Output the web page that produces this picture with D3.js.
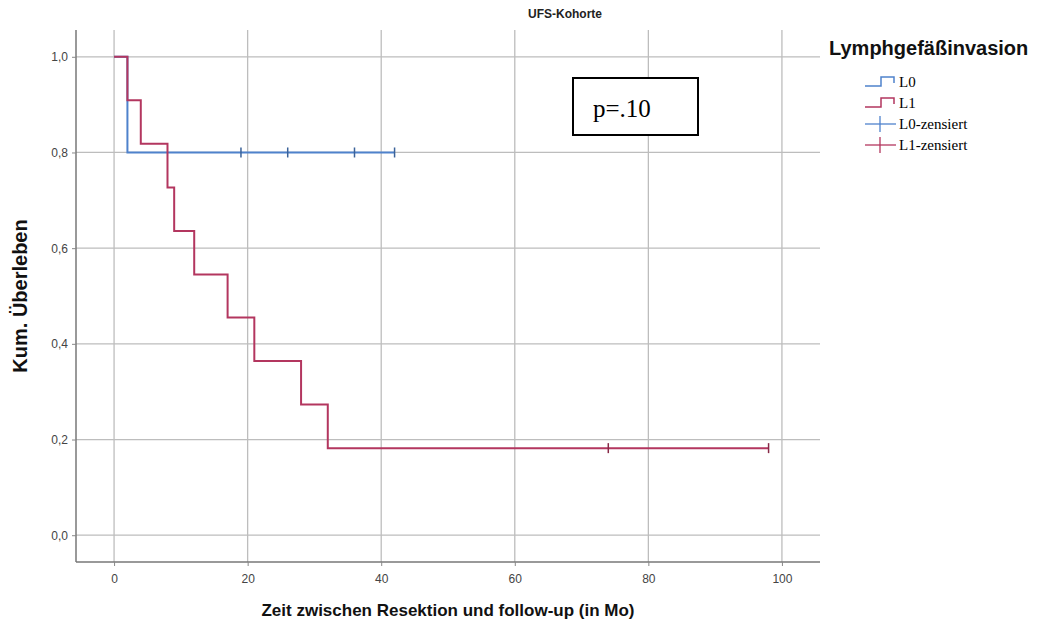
<!doctype html>
<html>
<head>
  <meta charset="utf-8">
  <title>UFS-Kohorte</title>
  <script src="https://d3js.org/d3.v7.min.js"></script>
  <style>
    body { margin: 0; padding: 0; background: #fff; }
    svg { display: block; }
    text { font-family: Arial, "Liberation Sans", sans-serif; }
  </style>
</head>
<body>
<div id="container"></div>
<script>
// data
var groups = ["L0", "L1"];
var colors = ["#4f82cc", "#b3365f"];
// step times (months) and survival after each step
var l0Times = [0, 2];
var l0Surv = [1.0, 0.8];
var l0End = 42;
var l0Censored = [19, 26, 36, 42];

var l1Times = [0, 2, 4, 8, 9, 12, 17, 21, 28, 32];
var l1Surv = [1.0, 0.909, 0.818, 0.727, 0.636, 0.545, 0.455, 0.364, 0.273, 0.182];
var l1End = 98;
var l1Censored = [74, 98];

var xTicks = [0, 20, 40, 60, 80, 100];
var yTicks = [0, 0.2, 0.4, 0.6, 0.8, 1.0];
var legendLabels = ["L0", "L1", "L0-zensiert", "L1-zensiert"];

var width = 1043, height = 632;
var plotL = 76, plotR = 820, plotT = 30, plotB = 562;

var svg = d3.select("#container").append("svg")
    .attr("width", width).attr("height", height);

var x = d3.scaleLinear().domain([-5.7, 105.7]).range([plotL, plotR]);
var y = d3.scaleLinear().domain([-0.056, 1.056]).range([plotB, plotT]);

// gridlines
svg.append("g").selectAll("line").data(xTicks).enter().append("line")
    .attr("x1", d => x(d)).attr("x2", d => x(d))
    .attr("y1", plotT).attr("y2", plotB)
    .attr("stroke", "#bdbdbd").attr("stroke-width", 1.3);
svg.append("g").selectAll("line").data(yTicks).enter().append("line")
    .attr("x1", plotL).attr("x2", plotR)
    .attr("y1", d => y(d)).attr("y2", d => y(d))
    .attr("stroke", "#bdbdbd").attr("stroke-width", 1.3);

// axes
var xAxis = d3.axisBottom(x).tickValues(xTicks).tickSize(4).tickPadding(8)
    .tickFormat(d3.format("d"));
var yAxis = d3.axisLeft(y).tickValues(yTicks).tickSize(4).tickPadding(4)
    .tickFormat(d => d3.format(".1f")(d).replace(".", ","));

var gx = svg.append("g").attr("transform", "translate(0," + plotB + ")").call(xAxis);
var gy = svg.append("g").attr("transform", "translate(" + plotL + ",0)").call(yAxis);
[gx, gy].forEach(function(g) {
  g.select(".domain").attr("stroke", "#777").attr("stroke-width", 1.5);
  g.selectAll(".tick line").attr("stroke", "#888");
  g.selectAll(".tick text").attr("fill", "#444").style("font-size", "12px")
    .style("font-family", "Arial, 'Liberation Sans', sans-serif");
});
gx.select(".domain").attr("d", "M" + plotL + ",0H" + plotR);
gy.select(".domain").attr("d", "M0," + plotT + "V" + plotB);

// step curves
function stepPath(times, surv, end) {
  var pts = [];
  for (var i = 0; i < times.length; i++) {
    if (i > 0) pts.push([times[i], surv[i - 1]]);
    pts.push([times[i], surv[i]]);
  }
  pts.push([end, surv[surv.length - 1]]);
  return d3.line().x(d => x(d[0])).y(d => y(d[1]))(pts);
}
function survAt(times, surv, t) {
  var s = surv[0];
  for (var i = 0; i < times.length; i++) if (times[i] <= t) s = surv[i];
  return s;
}

var series = [
  {times: l0Times, surv: l0Surv, end: l0End, cens: l0Censored},
  {times: l1Times, surv: l1Surv, end: l1End, cens: l1Censored}
];
// L1 drawn last, it sits on top of L0 at the shared start
[0, 1].forEach(function(k) {
  var s = series[k];
  svg.append("path").attr("d", stepPath(s.times, s.surv, s.end))
    .attr("fill", "none").attr("stroke", colors[k]).attr("stroke-width", 2);
  svg.append("g").selectAll("line").data(s.cens).enter().append("line")
    .attr("x1", d => x(d)).attr("x2", d => x(d))
    .attr("y1", d => y(survAt(s.times, s.surv, d)) - 5)
    .attr("y2", d => y(survAt(s.times, s.surv, d)) + 5)
    .attr("stroke", d3.color(colors[k]).darker(0.8)).attr("stroke-width", 1.5);
});

// title
svg.append("text").attr("x", 565).attr("y", 18).attr("text-anchor", "middle")
  .style("font-size", "12px").style("font-weight", "bold").attr("fill", "#222")
  .text("UFS-Kohorte");

// axis titles
svg.append("text").attr("x", (plotL + plotR) / 2).attr("y", 616).attr("text-anchor", "middle")
  .style("font-size", "17px").style("font-weight", "bold").attr("fill", "#111")
  .text("Zeit zwischen Resektion und follow-up (in Mo)");
svg.append("text").attr("transform", "translate(27,296) rotate(-90)")
  .attr("text-anchor", "middle").style("font-size", "20px").style("font-weight", "bold")
  .attr("fill", "#111")
  .text("Kum. Überleben");

// p-value box
svg.append("rect").attr("x", 573).attr("y", 78).attr("width", 125).attr("height", 57)
  .attr("fill", "#fff").attr("stroke", "#000").attr("stroke-width", 2);
svg.append("text").attr("x", 593).attr("y", 117)
  .style("font-family", "'Liberation Serif', 'Times New Roman', serif").style("font-size", "25px")
  .attr("fill", "#000").text("p=.10");

// legend
svg.append("text").attr("x", 829).attr("y", 55)
  .style("font-size", "20px").style("font-weight", "bold").attr("fill", "#111")
  .text("Lymphgefäßinvasion");
var lg = svg.append("g");
legendLabels.forEach(function(lab, i) {
  var cy = 82 + i * 21;
  var c = colors[i % 2];
  var g = lg.append("g");
  if (i < 2) {
    g.append("path")
      .attr("d", "M865," + (cy + 4) + "H881V" + (cy - 5) + "H894V" + (cy + 1))
      .attr("fill", "none").attr("stroke", c).attr("stroke-width", 1.5);
  } else {
    g.append("line").attr("x1", 865).attr("x2", 896).attr("y1", cy).attr("y2", cy)
      .attr("stroke", c).attr("stroke-width", 1.3);
    g.append("line").attr("x1", 880).attr("x2", 880).attr("y1", cy - 8).attr("y2", cy + 8)
      .attr("stroke", c).attr("stroke-width", 1.3);
  }
  g.append("text").attr("x", 899).attr("y", cy + 5)
    .style("font-family", "'Liberation Serif', 'Times New Roman', serif").style("font-size", "15px")
    .attr("fill", "#000").text(lab);
});
</script>
</body>
</html>
